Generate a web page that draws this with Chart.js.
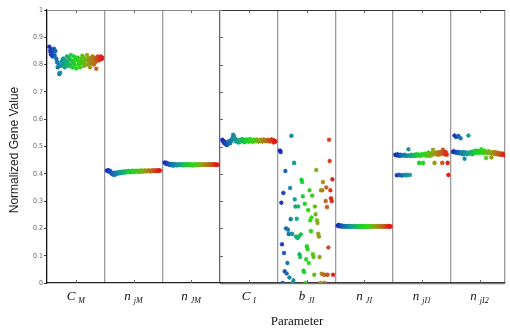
<!DOCTYPE html>
<html>
<head>
<meta charset="utf-8">
<script src="https://cdn.jsdelivr.net/npm/chart.js@4.4.0/dist/chart.umd.min.js"></script>
<style>
  html, body { margin: 0; padding: 0; background: #fff; }
  #wrap { width: 510px; height: 329px; }
</style>
</head>
<body>
<div id="wrap"><canvas id="chart"></canvas></div>
<script>
// ─── Données ──────────────────────────────
const catMain = ['C', 'n', 'n', 'C', 'b', 'n', 'n', 'n'];
const catSub  = ['M', 'jM', 'JM', 'I', 'JI', 'JI', 'jI1', 'jI2'];
const yTicks  = [0, 0.1, 0.2, 0.3, 0.4, 0.5, 0.6, 0.7, 0.8, 0.9, 1];

const cM = [0.865,0.85,0.838,0.855,0.83,0.846,0.858,0.834,0.85,0.822,0.81,0.79,0.802,0.766,0.77,0.795,0.812,0.8,0.822,0.805,
  0.79,0.815,0.8,0.83,0.81,0.795,0.822,0.8,0.835,0.815,0.79,0.81,0.83,0.8,0.82,0.786,0.815,0.826,0.8,0.81,
  0.79,0.82,0.805,0.832,0.81,0.795,0.822,0.8,0.815,0.835,0.8,0.825,0.81,0.79,0.82,0.805,0.83,0.815,0.8,0.825,
  0.81,0.785,0.82,0.83,0.815,0.825,0.82,0.83,0.82,0.825];
const njM = [0.412,0.41,0.413,0.408,0.41,0.405,0.402,0.398,0.4,0.404,0.396,0.401,0.403,0.405,0.4,0.404,0.406,0.402,0.405,0.407,
  0.404,0.406,0.408,0.405,0.407,0.409,0.406,0.408,0.41,0.407,0.409,0.406,0.41,0.408,0.411,0.407,0.409,0.41,0.408,0.411,
  0.409,0.41,0.407,0.41,0.412,0.409,0.411,0.408,0.41,0.412,0.41,0.409,0.411,0.41,0.412,0.41,0.411,0.409,0.412,0.41,
  0.411,0.413,0.41,0.412,0.411,0.41,0.412,0.413,0.411,0.412];
const nJM = [0.441,0.438,0.44,0.436,0.438,0.434,0.437,0.432,0.435,0.433,0.436,0.43,0.434,0.432,0.435,0.433,0.431,0.434,0.432,0.435,
  0.433,0.434,0.432,0.435,0.433,0.431,0.434,0.433,0.435,0.432,0.434,0.433,0.435,0.432,0.434,0.433,0.431,0.434,0.432,0.435,
  0.433,0.434,0.432,0.433,0.435,0.432,0.434,0.433,0.435,0.434,0.432,0.434,0.433,0.435,0.432,0.434,0.433,0.435,0.434,0.432,
  0.434,0.433,0.435,0.434,0.433,0.435,0.434,0.432,0.434,0.433];
const cI = [0.525,0.52,0.514,0.518,0.508,0.512,0.506,0.515,0.51,0.52,0.512,0.518,0.525,0.53,0.543,0.538,0.528,0.52,0.526,0.518,
  0.522,0.515,0.52,0.525,0.518,0.522,0.527,0.519,0.523,0.516,0.521,0.526,0.52,0.524,0.518,0.522,0.527,0.52,0.523,0.517,
  0.521,0.525,0.519,0.522,0.526,0.52,0.523,0.518,0.522,0.525,0.52,0.524,0.518,0.521,0.526,0.52,0.523,0.519,0.522,0.525,
  0.52,0.523,0.518,0.522,0.526,0.52,0.524,0.515,0.521,0.518];
const bJI = [0.485,0.48,0.294,0.142,0.0, 0.33,0.11,0.043, 0.41,0.2,0.035,0.073, 0.195,0.18,0.02,
  0.348,0.234,0.539,0.18,0.0,0.01, 0.44,0.307,0.28,0.17,0.235, 0.165,0.28,0.17, 0.105,0.095,0.178,
  0.378,0.37,0.318,0.045,0.04,0.29,0.0, 0.087,0.135,0.125,0.267,0.073, 0.34,0.23,0.19,0.24,
  0.32,0.105,0.095,0.03, 0.28,0.252,0.414, 0.23,0.22,0.18,0.17,0.095,0.0, 0.34,0.034, 0.34,0.37,0.03,
  0.0,0.03,0.3, 0.35,0.278,0.03,0.13, 0.525,0.447,0.34,0.31,0.3,0.38,0.03];
const nJI = [0.21,0.212,0.208,0.211,0.209,0.207,0.21,0.208,0.206,0.209,0.207,0.208,0.206,0.208,0.207,0.209,0.206,0.208,0.207,0.206,
  0.208,0.207,0.209,0.206,0.208,0.207,0.206,0.208,0.207,0.209,0.206,0.207,0.208,0.206,0.207,0.209,0.207,0.206,0.208,0.207,
  0.206,0.208,0.207,0.209,0.206,0.208,0.207,0.206,0.208,0.207,0.206,0.208,0.207,0.209,0.207,0.206,0.208,0.207,0.209,0.206,
  0.208,0.207,0.206,0.208,0.207,0.209,0.207,0.208,0.206,0.208];
const njI1 = [0.47,0.468,0.395,0.472,0.466,0.396,0.465,0.47,0.394,0.468,0.395,0.466,0.47,0.396,0.467,0.465,0.395,0.49,0.468,0.396,
  0.465,0.47,0.466,0.468,0.465,0.47,0.466,0.468,0.472,0.467,0.47,0.44,0.466,0.468,0.472,0.469,0.44,0.47,0.473,0.468,
  0.47,0.466,0.475,0.478,0.47,0.465,0.472,0.475,0.47,0.488,0.474,0.44,0.476,0.472,0.478,0.474,0.47,0.48,0.476,0.472,
  0.48,0.44,0.488,0.475,0.472,0.48,0.476,0.47,0.44,0.396];
const njI2 = [0.48,0.483,0.54,0.478,0.535,0.48,0.476,0.538,0.48,0.475,0.53,0.478,0.476,0.472,0.48,0.455,0.475,0.478,0.472,0.476,
  0.54,0.474,0.478,0.48,0.476,0.472,0.478,0.482,0.476,0.48,0.485,0.478,0.482,0.476,0.48,0.484,0.478,0.49,0.482,0.476,
  0.48,0.484,0.478,0.458,0.48,0.476,0.482,0.478,0.475,0.48,0.46,0.476,0.478,0.474,0.48,0.476,0.472,0.478,0.474,0.476,
  0.47,0.474,0.472,0.47,0.474,0.47,0.472,0.468,0.47,0.472];

const columns = [cM, njM, nJM, cI, bJI, nJI, njI1, njI2];

// ─── Couleurs arc-en-ciel (bleu → rouge) ──
const ramp = [[25,35,185],[20,115,175],[20,160,145],[25,205,50],[45,215,20],[140,165,20],[190,105,25],[225,25,25]];
function rampColor(t) {
  const p = t * (ramp.length - 1);
  const i = Math.min(Math.floor(p), ramp.length - 2);
  const f = p - i;
  const c = ramp[i].map((v, k) => Math.round(v + (ramp[i + 1][k] - v) * f));
  return `rgb(${c[0]},${c[1]},${c[2]})`;
}

const datasets = columns.map((vals, ci) => {
  const n = vals.length;
  const colors = vals.map((_, k) => rampColor(k / (n - 1)));
  return {
    data: vals.map((v, k) => ({ x: ci + 0.04 + 0.92 * k / (n - 1), y: v })),
    pointStyle: 'star',
    pointRadius: 2.3,
    borderWidth: 1.1,
    pointBorderColor: colors,
    pointBackgroundColor: colors
  };
});

// ─── Décor : bordure haute, repères, libellés ─
const decor = {
  id: 'decor',
  afterDraw(chart) {
    const { ctx, chartArea: a, scales: { x, y } } = chart;
    const split = x.getPixelForValue(3);
    ctx.save();
    // bordure haute
    ctx.lineWidth = 1.2;
    ctx.strokeStyle = '#8a8a8a';
    ctx.beginPath(); ctx.moveTo(a.left, a.top + 0.5); ctx.lineTo(split, a.top + 0.5); ctx.stroke();
    ctx.strokeStyle = '#333';
    ctx.beginPath(); ctx.moveTo(split, a.top + 0.5); ctx.lineTo(a.right, a.top + 0.5); ctx.stroke();
    // bas du second panneau en gris
    ctx.strokeStyle = '#7a7a7a';
    ctx.lineWidth = 1.3;
    ctx.beginPath(); ctx.moveTo(split + 1, a.bottom + 0.5); ctx.lineTo(a.right, a.bottom + 0.5); ctx.stroke();
    // petits repères au centre des colonnes
    ctx.strokeStyle = '#666';
    ctx.lineWidth = 1;
    catMain.forEach((_, i) => {
      const px = Math.round(x.getPixelForValue(i + 0.5)) + 0.5;
      ctx.beginPath();
      ctx.moveTo(px, a.top); ctx.lineTo(px, a.top + 3);
      ctx.moveTo(px, a.bottom); ctx.lineTo(px, a.bottom - 3);
      ctx.stroke();
    });
    // repères y du second panneau
    yTicks.forEach(v => {
      const py = Math.round(y.getPixelForValue(v)) + 0.5;
      ctx.beginPath(); ctx.moveTo(split, py); ctx.lineTo(split + 3, py); ctx.stroke();
    });
    // libellés des catégories (avec indice)
    ctx.fillStyle = '#111';
    ctx.textBaseline = 'alphabetic';
    catMain.forEach((m, i) => {
      const cx = x.getPixelForValue(i + 0.5);
      ctx.font = 'italic 13px "Liberation Serif"';
      const wm = ctx.measureText(m).width;
      ctx.font = 'italic 8px "Liberation Serif"';
      const ws = ctx.measureText(catSub[i]).width;
      const x0 = cx - (wm + 3 + ws) / 2;
      ctx.font = 'italic 13px "Liberation Serif"';
      ctx.fillText(m, x0, 300);
      ctx.font = 'italic 8px "Liberation Serif"';
      ctx.fillText(catSub[i], x0 + wm + 3, 303);
    });
    // titres d'axes
    ctx.textAlign = 'center';
    ctx.font = '13px "Liberation Serif"';
    ctx.fillText('Parameter', 297, 325);
    ctx.translate(18, 150);
    ctx.rotate(-Math.PI / 2);
    ctx.font = '12px "Liberation Sans"';
    ctx.fillStyle = '#222';
    ctx.fillText('Normalized Gene Value', 0, 0);
    ctx.restore();
  }
};

new Chart(document.getElementById('chart'), {
  type: 'scatter',
  data: { datasets },
  options: {
    responsive: true,
    maintainAspectRatio: false,
    animation: false,
    layout: { padding: { top: 10, right: 0, left: 0, bottom: 0 } },
    plugins: { legend: { display: false }, tooltip: { enabled: false } },
    scales: {
      x: {
        type: 'linear', min: 0, max: 7.94,
        ticks: { stepSize: 1, callback: () => '' },
        grid: {
          color: c => c.tick && c.tick.value === 3 ? '#6a6a6a' : '#9a9a9a',
          lineWidth: 1.3,
          drawTicks: false
        },
        border: { color: '#222', width: 1.2 },
        afterFit: s => { s.height = 46; }
      },
      y: {
        min: 0, max: 1,
        afterBuildTicks: s => { s.ticks = yTicks.map(v => ({ value: v })); },
        ticks: {
          callback: v => String(Number(v.toFixed(1))),
          font: { size: 7, family: '"DejaVu Sans Condensed", "Liberation Sans"' },
          color: '#666',
          padding: 1
        },
        grid: { drawOnChartArea: false, tickLength: 3, color: '#444' },
        border: { color: '#111', width: 1.2 },
        afterFit: s => { s.width = 47; }
      }
    }
  },
  plugins: [decor]
});
</script>
</body>
</html>
